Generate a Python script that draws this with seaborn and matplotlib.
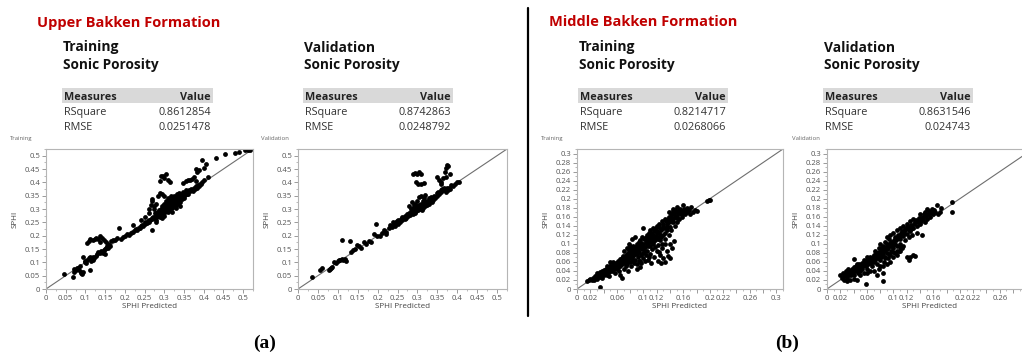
import numpy as np
import pandas as pd
import matplotlib
matplotlib.use("Agg")
import matplotlib.pyplot as plt
import seaborn as sns
from matplotlib.patches import Rectangle
from matplotlib.ticker import FixedLocator, FixedFormatter, MultipleLocator

# ---------------- DATA ----------------
formation_titles = ["Upper Bakken Formation", "Middle Bakken Formation"]
panel_kinds = ["Training", "Validation", "Training", "Validation"]
measure_names = ["RSquare", "RMSE"]
ub_train_values = ["0.8612854", "0.0251478"]
ub_valid_values = ["0.8742863", "0.0248792"]
mb_train_values = ["0.8214717", "0.0268066"]
mb_valid_values = ["0.8631546", "0.024743"]
panel_letters = ["(a)", "(b)"]

ub_ticks = [0, 0.05, 0.1, 0.15, 0.2, 0.25, 0.3, 0.35, 0.4, 0.45, 0.5]
ub_tick_labels = ["0", "0.05", "0.1", "0.15", "0.2", "0.25", "0.3", "0.35", "0.4", "0.45", "0.5"]
mb_ticks = [0, 0.02, 0.04, 0.06, 0.08, 0.1, 0.12, 0.14, 0.16, 0.18, 0.2, 0.22, 0.24, 0.26, 0.28, 0.3]
mb_y_labels = ["0", "0.02", "0.04", "0.06", "0.08", "0.1", "0.12", "0.14", "0.16", "0.18", "0.2",
               "0.22", "0.24", "0.26", "0.28", "0.3"]
mb_train_x_labels = ["0", "0.02", "", "0.06", "", "0.1", "0.12", "", "0.16", "", "0.2",
                     "0.22", "", "0.26", "", "0.3"]
mb_valid_x_labels = ["0", "0.02", "", "0.06", "", "0.1", "0.12", "", "0.16", "", "0.2",
                     "0.22", "", "0.26", "", ""]

# (SPHI Predicted, SPHI)
ub_train_points = [
    (0.045, 0.058), (0.068, 0.045), (0.07, 0.065), (0.072, 0.075), (0.075, 0.07), (0.078, 0.08),
    (0.08, 0.078), (0.083, 0.072), (0.086, 0.085), (0.088, 0.065), (0.09, 0.06), (0.092, 0.058),
    (0.095, 0.062), (0.094, 0.12), (0.098, 0.1), (0.1, 0.105), (0.102, 0.098), (0.105, 0.11),
    (0.108, 0.115), (0.111, 0.071), (0.112, 0.12), (0.115, 0.105), (0.118, 0.11), (0.12, 0.12),
    (0.123, 0.118), (0.126, 0.125), (0.13, 0.13), (0.133, 0.14), (0.137, 0.135), (0.14, 0.142),
    (0.143, 0.14), (0.145, 0.135), (0.148, 0.145), (0.15, 0.15), (0.152, 0.155), (0.155, 0.16),
    (0.158, 0.152), (0.16, 0.165), (0.162, 0.16), (0.15, 0.13),
    (0.103, 0.172), (0.108, 0.18), (0.112, 0.187), (0.118, 0.182), (0.124, 0.186), (0.128, 0.19),
    (0.133, 0.187), (0.138, 0.2), (0.142, 0.19), (0.146, 0.185), (0.136, 0.176), (0.152, 0.175),
    (0.158, 0.17), (0.165, 0.18),
    (0.17, 0.182), (0.175, 0.185), (0.18, 0.19), (0.185, 0.23), (0.19, 0.188), (0.195, 0.195),
    (0.2, 0.2), (0.205, 0.205), (0.21, 0.202), (0.215, 0.21), (0.22, 0.215), (0.225, 0.22),
    (0.228, 0.226), (0.232, 0.222), (0.235, 0.23), (0.238, 0.228), (0.24, 0.235), (0.243, 0.24),
    (0.246, 0.238), (0.25, 0.245), (0.252, 0.25), (0.255, 0.248), (0.258, 0.255), (0.26, 0.252),
    (0.262, 0.26), (0.265, 0.258), (0.268, 0.265), (0.27, 0.222), (0.27, 0.262), (0.272, 0.27),
    (0.262, 0.3), (0.266, 0.315), (0.268, 0.338), (0.275, 0.31),
    (0.275, 0.268), (0.278, 0.275), (0.28, 0.27), (0.28, 0.285), (0.282, 0.28), (0.285, 0.29),
    (0.285, 0.275), (0.288, 0.283), (0.29, 0.295), (0.29, 0.28), (0.292, 0.3), (0.293, 0.288),
    (0.295, 0.31), (0.295, 0.292), (0.297, 0.285), (0.298, 0.302), (0.3, 0.295), (0.3, 0.315),
    (0.3, 0.32), (0.302, 0.288), (0.303, 0.305), (0.305, 0.33), (0.305, 0.3), (0.307, 0.312),
    (0.308, 0.295), (0.31, 0.34), (0.31, 0.32), (0.31, 0.305), (0.312, 0.298), (0.313, 0.325),
    (0.315, 0.31), (0.315, 0.335), (0.316, 0.35), (0.318, 0.318), (0.32, 0.305), (0.32, 0.33),
    (0.322, 0.34), (0.323, 0.315), (0.325, 0.325), (0.325, 0.35), (0.327, 0.31), (0.328, 0.338),
    (0.33, 0.32), (0.33, 0.345), (0.332, 0.355), (0.333, 0.33), (0.335, 0.318), (0.335, 0.34),
    (0.337, 0.36), (0.338, 0.335), (0.34, 0.328), (0.34, 0.35), (0.342, 0.342), (0.345, 0.355),
    (0.345, 0.338), (0.348, 0.365), (0.35, 0.35), (0.35, 0.34), (0.352, 0.36), (0.355, 0.355),
    (0.355, 0.37), (0.358, 0.362), (0.36, 0.358), (0.362, 0.37), (0.365, 0.366), (0.368, 0.375),
    (0.37, 0.372), (0.372, 0.368), (0.375, 0.38), (0.378, 0.376), (0.38, 0.385), (0.383, 0.38),
    (0.385, 0.39), (0.388, 0.386), (0.39, 0.395), (0.393, 0.392), (0.395, 0.4),
    (0.28, 0.26), (0.29, 0.27), (0.3, 0.275), (0.31, 0.29), (0.32, 0.29), (0.33, 0.305),
    (0.34, 0.31), (0.28, 0.25), (0.295, 0.265), (0.22, 0.24), (0.24, 0.26), (0.25, 0.27),
    (0.26, 0.285), (0.275, 0.3), (0.28, 0.32), (0.27, 0.33), (0.29, 0.36), (0.295, 0.355),
    (0.3, 0.35), (0.285, 0.35),
    (0.3, 0.31), (0.305, 0.318), (0.31, 0.315), (0.318, 0.33), (0.322, 0.325), (0.327, 0.335),
    (0.332, 0.34), (0.337, 0.345), (0.343, 0.348), (0.347, 0.35), (0.352, 0.355), (0.358, 0.355),
    (0.296, 0.298), (0.286, 0.296), (0.283, 0.272), (0.276, 0.285),
    (0.289, 0.405), (0.292, 0.422), (0.297, 0.425), (0.3, 0.418), (0.305, 0.432), (0.31, 0.41),
    (0.315, 0.402), (0.348, 0.398), (0.355, 0.405), (0.36, 0.41), (0.365, 0.408), (0.37, 0.412),
    (0.375, 0.42), (0.38, 0.405), (0.38, 0.45), (0.383, 0.44), (0.388, 0.448), (0.395, 0.485),
    (0.405, 0.47), (0.4, 0.455), (0.4, 0.41), (0.41, 0.42),
    (0.43, 0.49), (0.455, 0.505), (0.48, 0.51), (0.49, 0.515), (0.505, 0.52), (0.512, 0.522),
    (0.518, 0.52),
]

ub_valid_points = [
    (0.035, 0.045), (0.055, 0.07), (0.06, 0.08), (0.078, 0.072), (0.08, 0.076), (0.083, 0.078),
    (0.086, 0.082), (0.09, 0.1), (0.095, 0.098), (0.1, 0.105), (0.103, 0.11), (0.106, 0.108),
    (0.11, 0.112), (0.113, 0.11), (0.117, 0.112), (0.12, 0.106), (0.11, 0.185), (0.13, 0.18),
    (0.133, 0.14), (0.138, 0.145), (0.143, 0.15), (0.148, 0.165), (0.152, 0.16), (0.158, 0.155),
    (0.165, 0.178), (0.172, 0.17), (0.178, 0.18), (0.183, 0.176), (0.19, 0.205), (0.195, 0.245),
    (0.198, 0.198), (0.205, 0.2), (0.21, 0.21), (0.215, 0.222), (0.22, 0.215), (0.222, 0.205),
    (0.228, 0.228), (0.232, 0.24), (0.235, 0.232), (0.238, 0.25), (0.24, 0.245), (0.243, 0.238),
    (0.245, 0.25), (0.248, 0.255), (0.25, 0.245), (0.252, 0.26), (0.255, 0.252), (0.258, 0.262),
    (0.26, 0.27), (0.262, 0.258), (0.265, 0.268), (0.268, 0.262), (0.27, 0.275), (0.272, 0.268),
    (0.275, 0.28), (0.277, 0.272), (0.28, 0.285), (0.28, 0.31), (0.282, 0.278), (0.285, 0.3),
    (0.285, 0.29), (0.287, 0.325), (0.288, 0.28), (0.29, 0.305), (0.29, 0.29), (0.292, 0.315),
    (0.293, 0.285), (0.295, 0.3), (0.295, 0.32), (0.297, 0.292), (0.298, 0.31), (0.3, 0.3),
    (0.3, 0.33), (0.302, 0.295), (0.303, 0.315), (0.305, 0.305), (0.305, 0.345), (0.307, 0.3),
    (0.308, 0.32), (0.31, 0.31), (0.31, 0.35), (0.312, 0.298), (0.313, 0.33), (0.315, 0.315),
    (0.315, 0.305), (0.317, 0.34), (0.318, 0.325), (0.32, 0.31), (0.32, 0.352), (0.322, 0.32),
    (0.325, 0.33), (0.325, 0.315), (0.328, 0.325), (0.33, 0.34), (0.33, 0.318), (0.333, 0.33),
    (0.335, 0.345), (0.337, 0.325), (0.34, 0.335), (0.342, 0.35), (0.345, 0.34), (0.348, 0.36),
    (0.35, 0.35), (0.352, 0.365), (0.355, 0.358), (0.358, 0.37), (0.36, 0.362), (0.362, 0.375),
    (0.365, 0.37), (0.368, 0.38), (0.37, 0.372), (0.372, 0.365), (0.375, 0.378), (0.378, 0.37),
    (0.38, 0.38), (0.383, 0.375), (0.385, 0.39), (0.39, 0.385), (0.395, 0.395), (0.4, 0.4),
    (0.405, 0.402),
    (0.29, 0.43), (0.295, 0.435), (0.3, 0.432), (0.305, 0.437), (0.31, 0.43), (0.297, 0.4),
    (0.302, 0.393), (0.31, 0.395), (0.317, 0.398), (0.35, 0.42), (0.355, 0.41), (0.36, 0.4),
    (0.365, 0.415), (0.37, 0.44), (0.373, 0.455), (0.375, 0.465), (0.378, 0.46), (0.382, 0.43),
    (0.372, 0.42), (0.36, 0.395),
]

mb_train_points = [
    (0.015, 0.018), (0.018, 0.02), (0.02, 0.022), (0.022, 0.019), (0.024, 0.025), (0.025, 0.021),
    (0.027, 0.028), (0.028, 0.024), (0.03, 0.03), (0.03, 0.022), (0.032, 0.027), (0.033, 0.033),
    (0.035, 0.03), (0.035, 0.037), (0.037, 0.025), (0.038, 0.034), (0.04, 0.04), (0.04, 0.03),
    (0.042, 0.036), (0.043, 0.045), (0.045, 0.04), (0.045, 0.032), (0.047, 0.048), (0.048, 0.038),
    (0.05, 0.045), (0.05, 0.052), (0.052, 0.04), (0.053, 0.05), (0.055, 0.055), (0.055, 0.045),
    (0.057, 0.035), (0.058, 0.05), (0.06, 0.058), (0.06, 0.045), (0.062, 0.052), (0.063, 0.04),
    (0.035, 0.005), (0.068, 0.024), (0.065, 0.03), (0.062, 0.062), (0.045, 0.052), (0.05, 0.06),
    (0.048, 0.028),
    (0.065, 0.06), (0.065, 0.05), (0.067, 0.068), (0.068, 0.055), (0.07, 0.065), (0.07, 0.045),
    (0.072, 0.072), (0.072, 0.058), (0.074, 0.05), (0.075, 0.078), (0.075, 0.065), (0.076, 0.04),
    (0.078, 0.07), (0.078, 0.082), (0.08, 0.06), (0.08, 0.075), (0.08, 0.088), (0.082, 0.068),
    (0.082, 0.05), (0.084, 0.08), (0.085, 0.095), (0.085, 0.072), (0.086, 0.058), (0.088, 0.085),
    (0.088, 0.065), (0.09, 0.1), (0.09, 0.078), (0.09, 0.055), (0.092, 0.09), (0.092, 0.07),
    (0.094, 0.105), (0.094, 0.082), (0.095, 0.062), (0.096, 0.095), (0.097, 0.075), (0.098, 0.115),
    (0.098, 0.088), (0.1, 0.1), (0.1, 0.068), (0.1, 0.135), (0.1, 0.08), (0.083, 0.11),
    (0.088, 0.115), (0.078, 0.1), (0.07, 0.085), (0.075, 0.09), (0.095, 0.048),
    (0.102, 0.092), (0.103, 0.112), (0.104, 0.075), (0.105, 0.12), (0.105, 0.1), (0.106, 0.085),
    (0.107, 0.065), (0.108, 0.108), (0.108, 0.125), (0.11, 0.095), (0.11, 0.13), (0.11, 0.078),
    (0.112, 0.115), (0.112, 0.058), (0.113, 0.088), (0.114, 0.135), (0.115, 0.12), (0.115, 0.1),
    (0.116, 0.07), (0.118, 0.128), (0.118, 0.108), (0.12, 0.14), (0.12, 0.085), (0.12, 0.115),
    (0.122, 0.062), (0.122, 0.098), (0.123, 0.125), (0.124, 0.145), (0.125, 0.075), (0.125, 0.108),
    (0.127, 0.132), (0.128, 0.09), (0.128, 0.15), (0.13, 0.12), (0.13, 0.068), (0.13, 0.14),
    (0.132, 0.1), (0.133, 0.155), (0.135, 0.085), (0.135, 0.13), (0.136, 0.145), (0.137, 0.072),
    (0.138, 0.16), (0.14, 0.138), (0.14, 0.1), (0.141, 0.15), (0.142, 0.165), (0.143, 0.09),
    (0.144, 0.172), (0.145, 0.155), (0.146, 0.107), (0.147, 0.14), (0.148, 0.175), (0.15, 0.162),
    (0.15, 0.148), (0.152, 0.17), (0.133, 0.06), (0.14, 0.068), (0.126, 0.058),
    (0.153, 0.155), (0.155, 0.178), (0.156, 0.165), (0.158, 0.16), (0.16, 0.172), (0.16, 0.185),
    (0.162, 0.165), (0.165, 0.17), (0.165, 0.18), (0.168, 0.175), (0.17, 0.165), (0.172, 0.182),
    (0.175, 0.17), (0.178, 0.175), (0.18, 0.172), (0.195, 0.195), (0.198, 0.196), (0.2, 0.197),
    (0.145, 0.178), (0.15, 0.182), (0.138, 0.17),
    (0.095, 0.108), (0.085, 0.085), (0.08, 0.095), (0.075, 0.055), (0.105, 0.11), (0.11, 0.105),
    (0.115, 0.11), (0.12, 0.125), (0.125, 0.12), (0.1, 0.09), (0.09, 0.088), (0.085, 0.065),
    (0.068, 0.062), (0.058, 0.058), (0.062, 0.055),
    (0.03, 0.035), (0.034, 0.026), (0.038, 0.04), (0.041, 0.043), (0.044, 0.036), (0.046, 0.044),
    (0.049, 0.05), (0.051, 0.047), (0.054, 0.06), (0.056, 0.05), (0.059, 0.054), (0.061, 0.048),
    (0.064, 0.066), (0.066, 0.056), (0.069, 0.072), (0.071, 0.062), (0.073, 0.068), (0.076, 0.076),
    (0.077, 0.062), (0.079, 0.086), (0.081, 0.078), (0.083, 0.09), (0.084, 0.062), (0.086, 0.092),
    (0.087, 0.078), (0.089, 0.094), (0.091, 0.084), (0.093, 0.098), (0.093, 0.062), (0.095, 0.09),
    (0.097, 0.102), (0.099, 0.094), (0.101, 0.11), (0.102, 0.085), (0.104, 0.105), (0.106, 0.115),
    (0.107, 0.095), (0.109, 0.118), (0.111, 0.11), (0.113, 0.125), (0.114, 0.105), (0.116, 0.13),
    (0.117, 0.118), (0.119, 0.135), (0.121, 0.128), (0.122, 0.11), (0.124, 0.138), (0.126, 0.13),
    (0.127, 0.115), (0.129, 0.145), (0.131, 0.135), (0.132, 0.125), (0.134, 0.15), (0.136, 0.138),
    (0.137, 0.155), (0.139, 0.148), (0.141, 0.16), (0.143, 0.158), (0.144, 0.148), (0.146, 0.165),
    (0.148, 0.16), (0.149, 0.17), (0.151, 0.158), (0.153, 0.175), (0.154, 0.168), (0.157, 0.172),
    (0.159, 0.168), (0.161, 0.178), (0.163, 0.175), (0.166, 0.176), (0.118, 0.092), (0.123, 0.082),
    (0.128, 0.1), (0.133, 0.11), (0.138, 0.12), (0.142, 0.13), (0.108, 0.07), (0.103, 0.062),
    (0.097, 0.058), (0.09, 0.045),
]

mb_valid_points = [
    (0.02, 0.03), (0.022, 0.025), (0.024, 0.035), (0.025, 0.02), (0.027, 0.03), (0.028, 0.04),
    (0.03, 0.025), (0.03, 0.035), (0.032, 0.045), (0.033, 0.03), (0.035, 0.04), (0.035, 0.02),
    (0.037, 0.035), (0.038, 0.045), (0.04, 0.066), (0.04, 0.03), (0.042, 0.04), (0.043, 0.05),
    (0.045, 0.02), (0.045, 0.045), (0.047, 0.035), (0.048, 0.055), (0.05, 0.05), (0.05, 0.04),
    (0.052, 0.058), (0.053, 0.045), (0.055, 0.055), (0.055, 0.035), (0.057, 0.06), (0.058, 0.05),
    (0.059, 0.01), (0.06, 0.062), (0.06, 0.045), (0.062, 0.055), (0.063, 0.065), (0.065, 0.058),
    (0.065, 0.07), (0.067, 0.05), (0.068, 0.068), (0.07, 0.075), (0.07, 0.06), (0.072, 0.065),
    (0.072, 0.085), (0.074, 0.07), (0.075, 0.08), (0.075, 0.055), (0.077, 0.075), (0.078, 0.09),
    (0.078, 0.045), (0.08, 0.08), (0.08, 0.065), (0.08, 0.1), (0.082, 0.07), (0.082, 0.085),
    (0.084, 0.017), (0.084, 0.035), (0.085, 0.095), (0.085, 0.078), (0.086, 0.06), (0.087, 0.105),
    (0.088, 0.088), (0.088, 0.07), (0.09, 0.1), (0.09, 0.08), (0.09, 0.115), (0.092, 0.09),
    (0.092, 0.068), (0.094, 0.11), (0.094, 0.078), (0.095, 0.12), (0.096, 0.095), (0.097, 0.085),
    (0.098, 0.105), (0.1, 0.1), (0.1, 0.125), (0.1, 0.09), (0.102, 0.115), (0.102, 0.08),
    (0.104, 0.108), (0.105, 0.13), (0.105, 0.095), (0.107, 0.12), (0.108, 0.085), (0.11, 0.135),
    (0.11, 0.11), (0.11, 0.1), (0.112, 0.125), (0.113, 0.09), (0.115, 0.095), (0.115, 0.14),
    (0.115, 0.118), (0.117, 0.13), (0.118, 0.108), (0.12, 0.145), (0.12, 0.07), (0.12, 0.122),
    (0.122, 0.135), (0.123, 0.065), (0.124, 0.115), (0.125, 0.15), (0.125, 0.128), (0.127, 0.14),
    (0.128, 0.12), (0.13, 0.155), (0.13, 0.135), (0.133, 0.074), (0.133, 0.148), (0.135, 0.14),
    (0.136, 0.125), (0.138, 0.158), (0.14, 0.145), (0.14, 0.165), (0.142, 0.15), (0.143, 0.12),
    (0.145, 0.16), (0.147, 0.148), (0.148, 0.17), (0.15, 0.155), (0.15, 0.178), (0.152, 0.165),
    (0.155, 0.17), (0.155, 0.16), (0.158, 0.178), (0.16, 0.165), (0.163, 0.17), (0.165, 0.185),
    (0.167, 0.165), (0.17, 0.17), (0.172, 0.18), (0.188, 0.192), (0.188, 0.171),
    (0.06, 0.035), (0.07, 0.04), (0.075, 0.03), (0.08, 0.05), (0.09, 0.055), (0.1, 0.07),
    (0.105, 0.075), (0.11, 0.085), (0.095, 0.06), (0.085, 0.05), (0.065, 0.04), (0.05, 0.03),
    (0.04, 0.022), (0.03, 0.018), (0.13, 0.075), (0.125, 0.07), (0.07, 0.07), (0.075, 0.072),
    (0.068, 0.06), (0.06, 0.07), (0.055, 0.065), (0.045, 0.055), (0.04, 0.048),
    (0.025, 0.028), (0.028, 0.033), (0.032, 0.037), (0.036, 0.032), (0.039, 0.038), (0.041, 0.045),
    (0.044, 0.042), (0.046, 0.05), (0.049, 0.046), (0.051, 0.054), (0.054, 0.05), (0.056, 0.058),
    (0.058, 0.062), (0.061, 0.058), (0.063, 0.06), (0.066, 0.066), (0.069, 0.064), (0.071, 0.072),
    (0.073, 0.078), (0.076, 0.068), (0.079, 0.082), (0.081, 0.075), (0.083, 0.09), (0.086, 0.085),
    (0.089, 0.092), (0.091, 0.088), (0.093, 0.1), (0.096, 0.104), (0.099, 0.097), (0.101, 0.108),
    (0.103, 0.1), (0.106, 0.112), (0.108, 0.118), (0.111, 0.12), (0.113, 0.128), (0.116, 0.124),
    (0.118, 0.132), (0.121, 0.138), (0.123, 0.13), (0.126, 0.142), (0.128, 0.136), (0.131, 0.145),
    (0.134, 0.152), (0.137, 0.148), (0.139, 0.152), (0.141, 0.158), (0.144, 0.155), (0.146, 0.165),
    (0.149, 0.162), (0.153, 0.172), (0.157, 0.168), (0.161, 0.175), (0.095, 0.075), (0.105, 0.085),
    (0.1, 0.082), (0.11, 0.092), (0.087, 0.068),
]

# ---------------- FIGURE ----------------
sns.set_theme(style="white")
plt.rcParams['font.family'] = ['Open Sans', 'DejaVu Sans']

W, H = 1022, 356
fig = plt.figure(figsize=(W / 100, H / 100), dpi=100)
fig.patch.set_facecolor("white")


def fx(x):
    return x / W


def fy(y):
    return 1 - y / H


def ftext(x, y, s, **kw):
    return fig.text(fx(x), fy(y), s, **kw)


GRAY_TXT = "#555555"
SPINE = "#b5b5b5"


def draw_panel(rect, pts, lim, ticks, xlabels, ylabels, minor):
    x0, y0, x1, y1 = rect
    ax = fig.add_axes([fx(x0), fy(y1), (x1 - x0) / W, (y1 - y0) / H])
    df = pd.DataFrame(pts, columns=["SPHI Predicted", "SPHI"])
    sns.lineplot(x=[0, lim], y=[0, lim], ax=ax, color="#6e6e6e", lw=0.8, zorder=1)
    sns.scatterplot(data=df, x="SPHI Predicted", y="SPHI", ax=ax, color="black",
                    s=12, linewidth=0, zorder=2, legend=False)
    ax.set_xlim(0, lim)
    ax.set_ylim(0, lim)
    ax.xaxis.set_major_locator(FixedLocator(ticks))
    ax.xaxis.set_major_formatter(FixedFormatter(xlabels))
    ax.yaxis.set_major_locator(FixedLocator(ticks))
    ax.yaxis.set_major_formatter(FixedFormatter(ylabels))
    ax.xaxis.set_minor_locator(MultipleLocator(minor))
    ax.yaxis.set_minor_locator(MultipleLocator(minor))
    ax.tick_params(which="major", direction="out", length=3, width=0.6, color="#8a8a8a",
                   labelsize=5.6, labelcolor=GRAY_TXT, pad=1.2, bottom=True, left=True)
    ax.tick_params(which="minor", direction="out", length=1.6, width=0.5, color="#a0a0a0",
                   bottom=True, left=True)
    for sp in ax.spines.values():
        sp.set_color(SPINE)
        sp.set_linewidth(0.8)
    ax.set_xlabel("SPHI Predicted", fontsize=5.8, color="#444444")
    ax.set_ylabel("SPHI", fontsize=5.8, color="#444444")
    ax.xaxis.set_label_coords(0.5, -13.5 / (y1 - y0))
    ax.yaxis.set_label_coords(-27 / (x1 - x0), 0.5)
    ax.grid(False)
    return ax


panels = [
    ((46, 149, 253, 289), ub_train_points, 0.525, ub_ticks, ub_tick_labels, ub_tick_labels, 0.025),
    ((298, 149, 507, 289), ub_valid_points, 0.525, ub_ticks, ub_tick_labels, ub_tick_labels, 0.025),
    ((577, 149, 783, 289), mb_train_points, 0.31, mb_ticks, mb_train_x_labels, mb_y_labels, 0.01),
    ((827, 149, 1033, 289), mb_valid_points, 0.31, mb_ticks, mb_valid_x_labels, mb_y_labels, 0.01),
]
corner_x = [10, 261, 541, 792]
for i, (rect, pts, lim, ticks, xl, yl, mn) in enumerate(panels):
    draw_panel(rect, pts, lim, ticks, xl, yl, mn)
    ftext(corner_x[i], 140, panel_kinds[i], fontsize=4.3, color="#666666", va="baseline")

# headers and tables
title_x = [37, 549]
for i, t in enumerate(formation_titles):
    ftext(title_x[i], 26.5, t, fontsize=10.5, fontweight="bold", color="#C00000", va="baseline")

table_left = [62, 303, 578, 823]
table_right = [213, 453, 728, 973]
table_values = [ub_train_values, ub_valid_values, mb_train_values, mb_valid_values]
for i in range(4):
    L, R = table_left[i], table_right[i]
    ftext(L + 1, 51.5, panel_kinds[i], fontsize=10, fontweight="bold", color="#111111", va="baseline")
    ftext(L + 1, 69, "Sonic Porosity", fontsize=9.8, fontweight="bold", color="#111111", va="baseline")
    fig.patches.append(Rectangle((fx(L), fy(103)), (R - L) / W, 15 / H,
                                 transform=fig.transFigure, facecolor="#d9d9d9",
                                 edgecolor="none", zorder=0))
    ftext(L + 2, 100, "Measures", fontsize=7.8, fontweight="bold", color="#222222", va="baseline")
    ftext(R - 2, 100, "Value", fontsize=7.8, fontweight="bold", color="#222222", va="baseline",
          ha="right")
    for j, m in enumerate(measure_names):
        yb = 115 + 15 * j
        ftext(L + 2, yb, m, fontsize=7.8, color="#333333", va="baseline")
        ftext(R - 2, yb, table_values[i][j], fontsize=7.8, color="#333333", va="baseline", ha="right")

# divider
fig.add_artist(plt.Line2D([fx(528), fx(528)], [fy(8), fy(316)], transform=fig.transFigure,
                          color="black", lw=1.6))

# panel letters
letter_x = [265, 787]
for i, s in enumerate(panel_letters):
    ftext(letter_x[i], 348, s, fontsize=14, fontweight="bold", color="black", ha="center",
          va="baseline", family=["Liberation Serif", "DejaVu Serif"])

fig.savefig("out.png", dpi=100, facecolor="white")
